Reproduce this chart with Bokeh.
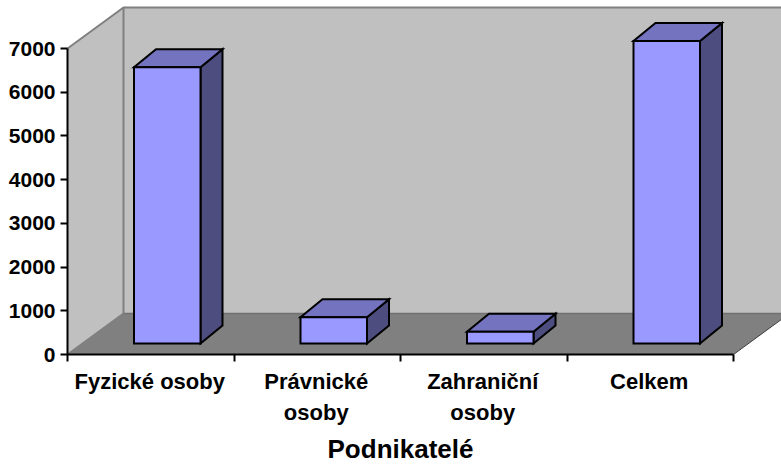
from bokeh.plotting import figure
from bokeh.models import Range1d, FixedTicker
from bokeh.embed import file_html
from bokeh.resources import INLINE

categories = ["Fyzické osoby", "Právnické\nosoby", "Zahraniční\nosoby", "Celkem"]
values = [6320, 600, 270, 6920]
y_ticks = [0, 1000, 2000, 3000, 4000, 5000, 6000, 7000]
axis_title = "Podnikatelé"

W, H = 781, 468
PX_X = 166.5          # pixels per category
PX_Y = 306 / 7000     # pixels per unit of value
X0, Y0 = 67, 354      # pixel of the origin inside the frame


def dx(px):
    return px / PX_X


def dy(px):
    return px / PX_Y


p = figure(width=W, height=H, output_backend="svg", toolbar_location=None,
           x_range=Range1d(dx(-X0), dx(W - X0)),
           y_range=Range1d(dy(-(H - Y0)), dy(Y0)),
           min_border=0, outline_line_color=None)
p.grid.visible = False

# 3D box: walls and floor
DEPTH_X, DEPTH_Y = dx(56), dy(41)
WALL_TOP = dy(Y0 - 7)
FAR = 4 + DEPTH_X
WALL = "#C0C0C0"
EDGE = "#808080"
p.patch([DEPTH_X, FAR, FAR, DEPTH_X], [DEPTH_Y, DEPTH_Y, WALL_TOP, WALL_TOP],
        fill_color=WALL, line_color=None)
p.patch([0, DEPTH_X, DEPTH_X, 0], [0, DEPTH_Y, WALL_TOP, y_ticks[-1]],
        fill_color=WALL, line_color=None)
p.patch([0, 4, FAR, DEPTH_X], [0, 0, DEPTH_Y, DEPTH_Y],
        fill_color="#808080", line_color=None)
p.line([0, DEPTH_X, FAR], [y_ticks[-1], WALL_TOP, WALL_TOP],
       line_color=EDGE, line_width=2)
p.line([0, DEPTH_X, DEPTH_X], [0, DEPTH_Y, WALL_TOP], line_color=EDGE, line_width=2)
p.line([DEPTH_X, FAR], [DEPTH_Y, DEPTH_Y], line_color="#707070", line_width=1.5)
p.line([4, FAR], [0, DEPTH_Y], line_color="#404040", line_width=1)

# Bars
BAR_W = dx(66.5)
BASE = dy(11)
SIDE_X, SIDE_Y = dx(22), dy(18)
lefts = [dx(66.5), dx(233), dx(399.5), dx(566)]
front_x, front_y, top_x, top_y, side_x, side_y = [], [], [], [], [], []
for l, v in zip(lefts, values):
    r = l + BAR_W
    t = BASE + v
    front_x.append([l, r, r, l])
    front_y.append([BASE, BASE, t, t])
    top_x.append([l, r, r + SIDE_X, l + SIDE_X])
    top_y.append([t, t, t + SIDE_Y, t + SIDE_Y])
    side_x.append([r, r + SIDE_X, r + SIDE_X, r])
    side_y.append([BASE, BASE + SIDE_Y, t + SIDE_Y, t])
common = dict(line_color="black", line_width=2, line_join="miter")
p.patches(side_x, side_y, fill_color="#4D4D80", **common)
p.patches(top_x, top_y, fill_color="#7373BF", **common)
p.patches(front_x, front_y, fill_color="#9999FF", **common)

# Axes
FONT = "Liberation Sans"
ya = p.yaxis[0]
ya.fixed_location = 0
ya.bounds = (0, y_ticks[-1])
ya.ticker = FixedTicker(ticks=y_ticks)
ya.axis_line_color = "black"
ya.axis_line_width = 2
ya.major_tick_line_color = "black"
ya.major_tick_line_width = 2
ya.major_tick_out = 7
ya.major_tick_in = 0
ya.minor_tick_line_color = None
ya.major_label_text_font = FONT
ya.major_label_text_font_style = "bold"
ya.major_label_text_font_size = "21px"
ya.major_label_text_color = "black"
ya.major_label_standoff = 5

xa = p.xaxis[0]
xa.fixed_location = 0
xa.bounds = (0, 4)
centres = [i + 0.494 for i in range(len(categories))]
xa.ticker = FixedTicker(ticks=centres, minor_ticks=[0, 1, 2, 3, 4])
xa.major_label_overrides = {c: n for c, n in zip(centres, categories)}
xa.axis_line_color = "black"
xa.axis_line_width = 2
xa.major_tick_line_color = None
xa.major_tick_out = 0
xa.major_tick_in = 0
xa.minor_tick_line_color = "black"
xa.minor_tick_line_width = 2
xa.minor_tick_out = 7
xa.minor_tick_in = 0
xa.major_label_text_font = FONT
xa.major_label_text_font_style = "bold"
xa.major_label_text_font_size = "22px"
xa.major_label_text_color = "black"
xa.major_label_text_line_height = 1.24
xa.major_label_standoff = 7
xa.axis_label = axis_title
xa.axis_label_text_font = FONT
xa.axis_label_text_font_style = "bold"
xa.axis_label_text_font_size = "26px"
xa.axis_label_text_color = "black"
xa.axis_label_standoff = 6

open("out.html", "w").write(file_html(p, INLINE))
